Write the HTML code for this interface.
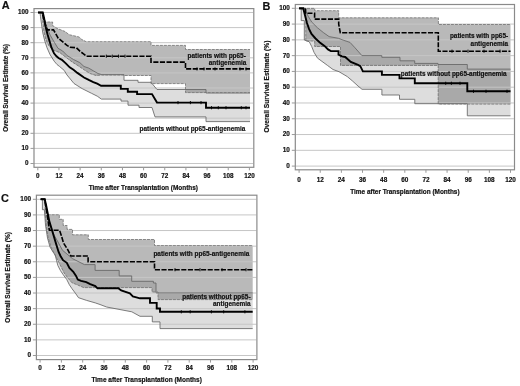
<!DOCTYPE html>
<html><head><meta charset="utf-8"><style>
html,body{margin:0;padding:0;background:#fff;}
svg{display:block;will-change:transform;filter:blur(0.3px);}
text{font-family:"Liberation Sans", sans-serif;fill:#111;stroke:#111;stroke-width:0.18px;}
.g{stroke:#c6c6c6;stroke-width:1;}
.box{fill:none;stroke:#8a8a8a;stroke-width:1.2;}
.tk{stroke:#9a9a9a;stroke-width:1;}
.tl{font-weight:bold;}
.at{font-size:6.3px;font-weight:bold;}
.lt{font-size:10.9px;font-weight:bold;}
.an{font-size:6.45px;font-weight:bold;}
.bn{fill:#dddddd;stroke:none;}
.bp{fill:#b9b9b9;stroke:none;}
.bo{fill:#a9a9a9;stroke:none;}
.en{fill:none;stroke:#666;stroke-width:0.85;}
.ep{fill:none;stroke:#707070;stroke-width:0.8;stroke-dasharray:3 1;}
.ct{stroke:#000;stroke-width:0.9;}
.kn{fill:none;stroke:#000;stroke-width:1.9;stroke-linejoin:miter;}
.kp{fill:none;stroke:#000;stroke-width:1.6;stroke-dasharray:5.1 1.5;}
</style></head>
<body><svg width="520" height="386" viewBox="0 0 520 386">
<rect width="520" height="386" fill="#fff"/>
<clipPath id="cn1"><polygon points="38,12.5 42.2,12.5 45,22 48,30 50.2,35.2 54.4,42.4 58,48.3 62.7,51 67.3,55.7 73.5,59.5 79.8,62.6 84,66.5 88.7,68.1 93.3,70.8 98,73.5 101.9,74.7 124,74.7 124,80.3 138,80.3 138,82.3 151,82.3 157,89.5 206,89.5 206,93 250,93 250,121.6 206,121.6 206,116.9 155,116.9 152,107.5 139,107.5 139,105.2 128,105.2 128,101.1 121,101.1 121,99.1 101.4,99.1 97.3,96.2 91.5,93.3 82.1,88.6 74,83.5 67,75 64.2,70.4 59.6,66.5 57,64.5 54.2,61.2 50,54.5 47,47.7 44.8,41 42.8,32.9 41.6,24.8 40.5,16.7 40,12.5 38,12.5"/></clipPath>
<polygon points="38,12.5 42.2,12.5 45,22 48,30 50.2,35.2 54.4,42.4 58,48.3 62.7,51 67.3,55.7 73.5,59.5 79.8,62.6 84,66.5 88.7,68.1 93.3,70.8 98,73.5 101.9,74.7 124,74.7 124,80.3 138,80.3 138,82.3 151,82.3 157,89.5 206,89.5 206,93 250,93 250,121.6 206,121.6 206,116.9 155,116.9 152,107.5 139,107.5 139,105.2 128,105.2 128,101.1 121,101.1 121,99.1 101.4,99.1 97.3,96.2 91.5,93.3 82.1,88.6 74,83.5 67,75 64.2,70.4 59.6,66.5 57,64.5 54.2,61.2 50,54.5 47,47.7 44.8,41 42.8,32.9 41.6,24.8 40.5,16.7 40,12.5 38,12.5" class="bn"/>
<polygon points="38,12.5 42.2,12.5 44,18 45.7,22 52.6,22 52.6,25.5 57,28.4 60.2,29.6 65,31.5 69.2,34.7 79.1,37 81.5,39.3 86.1,41.7 151,41.7 151,45.4 185.5,45.4 185.5,49.5 250,49.5 250,92.6 185.5,92.6 185.5,83.6 151,83.6 151,75.5 124,75.5 124,75 101.5,75 96,75.5 90,73.5 84.4,70 78.2,65.8 72,61.9 65.8,57.2 59.6,52.5 54,50.5 49,46 46,40 44,32 42.8,22 42.2,12.5 38,12.5" class="bp"/>
<polygon points="38,12.5 42.2,12.5 44,18 45.7,22 52.6,22 52.6,25.5 57,28.4 60.2,29.6 65,31.5 69.2,34.7 79.1,37 81.5,39.3 86.1,41.7 151,41.7 151,45.4 185.5,45.4 185.5,49.5 250,49.5 250,92.6 185.5,92.6 185.5,83.6 151,83.6 151,75.5 124,75.5 124,75 101.5,75 96,75.5 90,73.5 84.4,70 78.2,65.8 72,61.9 65.8,57.2 59.6,52.5 54,50.5 49,46 46,40 44,32 42.8,22 42.2,12.5 38,12.5" class="bo" clip-path="url(#cn1)"/>
<line x1="34" y1="163.5" x2="253.2" y2="163.5" class="g"/>
<line x1="34" y1="148.4" x2="253.2" y2="148.4" class="g"/>
<line x1="34" y1="133.3" x2="253.2" y2="133.3" class="g"/>
<line x1="34" y1="118.2" x2="253.2" y2="118.2" class="g"/>
<line x1="34" y1="103.1" x2="253.2" y2="103.1" class="g"/>
<line x1="34" y1="88" x2="253.2" y2="88" class="g"/>
<line x1="34" y1="72.9" x2="253.2" y2="72.9" class="g"/>
<line x1="34" y1="57.8" x2="253.2" y2="57.8" class="g"/>
<line x1="34" y1="42.7" x2="253.2" y2="42.7" class="g"/>
<line x1="34" y1="27.6" x2="253.2" y2="27.6" class="g"/>
<line x1="34" y1="12.5" x2="253.2" y2="12.5" class="g"/>
<polyline points="38,12.5 42.2,12.5 45,22 48,30 50.2,35.2 54.4,42.4 58,48.3 62.7,51 67.3,55.7 73.5,59.5 79.8,62.6 84,66.5 88.7,68.1 93.3,70.8 98,73.5 101.9,74.7 124,74.7 124,80.3 138,80.3 138,82.3 151,82.3 157,89.5 206,89.5 206,93 250,93" class="en"/>
<polyline points="38,12.5 40,12.5 40.5,16.7 41.6,24.8 42.8,32.9 44.8,41 47,47.7 50,54.5 54.2,61.2 57,64.5 59.6,66.5 64.2,70.4 67,75 74,83.5 82.1,88.6 91.5,93.3 97.3,96.2 101.4,99.1 121,99.1 121,101.1 128,101.1 128,105.2 139,105.2 139,107.5 152,107.5 155,116.9 206,116.9 206,121.6 250,121.6" class="en"/>
<polyline points="38,12.5 42.2,12.5 44,18 45.7,22 52.6,22 52.6,25.5 57,28.4 60.2,29.6 65,31.5 69.2,34.7 79.1,37 81.5,39.3 86.1,41.7 151,41.7 151,45.4 185.5,45.4 185.5,49.5 250,49.5" class="ep"/>
<polyline points="38,12.5 42.2,12.5 42.8,22 44,32 46,40 49,46 54,50.5 59.6,52.5 65.8,57.2 72,61.9 78.2,65.8 84.4,70 90,73.5 96,75.5 101.5,75 124,75 124,75.5 151,75.5 151,83.6 185.5,83.6 185.5,92.6 250,92.6" class="ep"/>
<polyline points="38,12.5 42.8,12.5 44.1,18.1 45.5,26.2 47.5,34.3 49.5,41 51.5,47.7 54,53.3 56.5,56.3 58.5,58 61.9,59.8 65.8,63.4 69.7,67.3 73.5,69.8 77.4,72.9 84,77.5 88.7,79.9 93.3,82.1 97.2,83.7 101.1,85.8 120.8,85.8 120.8,88.9 127.8,88.9 127.8,91.8 137.1,91.8 137.1,94.1 152,94.1 157,102.6 206,102.6 206,107.7 250,107.7" class="kn"/>
<polyline points="38,12.5 42.2,12.5 44,20 46,27 47.5,29.9 53.5,29.9 55.6,33.5 58.2,38.2 62.8,41.8 67,45.4 70,47.2 76.5,47.8 80.3,51.5 83.5,53.8 86.5,56.2 151,56.2 151,62.1 185.5,62.1 185.5,68.9 250,68.9" class="kp"/>
<text x="187.5" y="57.6" class="an" text-anchor="start">patients with pp65-</text>
<text x="246.3" y="64.9" class="an" text-anchor="end">antigenemia</text>
<text x="139.5" y="131.2" class="an" text-anchor="start">patients without pp65-antigenemia</text>
<line x1="178" y1="101" x2="178" y2="104.2" class="ct"/>
<line x1="190.4" y1="101" x2="190.4" y2="104.2" class="ct"/>
<line x1="201" y1="101" x2="201" y2="104.2" class="ct"/>
<line x1="211.5" y1="106.1" x2="211.5" y2="109.3" class="ct"/>
<line x1="218.3" y1="106.1" x2="218.3" y2="109.3" class="ct"/>
<line x1="226" y1="106.1" x2="226" y2="109.3" class="ct"/>
<line x1="241.3" y1="106.1" x2="241.3" y2="109.3" class="ct"/>
<line x1="246" y1="106.1" x2="246" y2="109.3" class="ct"/>
<line x1="106.3" y1="54.6" x2="106.3" y2="57.8" class="ct"/>
<line x1="112.3" y1="54.6" x2="112.3" y2="57.8" class="ct"/>
<line x1="118.5" y1="54.6" x2="118.5" y2="57.8" class="ct"/>
<line x1="125" y1="54.6" x2="125" y2="57.8" class="ct"/>
<line x1="197" y1="67.3" x2="197" y2="70.5" class="ct"/>
<line x1="204" y1="67.3" x2="204" y2="70.5" class="ct"/>
<line x1="215" y1="67.3" x2="215" y2="70.5" class="ct"/>
<line x1="240" y1="67.3" x2="240" y2="70.5" class="ct"/>
<line x1="246" y1="67.3" x2="246" y2="70.5" class="ct"/>
<rect x="34" y="8.6" width="219.8" height="158.7" class="box"/>
<line x1="30.5" y1="163.5" x2="34" y2="163.5" class="tk"/>
<text x="28.5" y="165.4" class="tl" style="font-size:6.3px" text-anchor="end">0</text>
<line x1="30.5" y1="148.4" x2="34" y2="148.4" class="tk"/>
<text x="28.5" y="150.3" class="tl" style="font-size:6.3px" text-anchor="end">10</text>
<line x1="30.5" y1="133.3" x2="34" y2="133.3" class="tk"/>
<text x="28.5" y="135.2" class="tl" style="font-size:6.3px" text-anchor="end">20</text>
<line x1="30.5" y1="118.2" x2="34" y2="118.2" class="tk"/>
<text x="28.5" y="120.1" class="tl" style="font-size:6.3px" text-anchor="end">30</text>
<line x1="30.5" y1="103.1" x2="34" y2="103.1" class="tk"/>
<text x="28.5" y="105" class="tl" style="font-size:6.3px" text-anchor="end">40</text>
<line x1="30.5" y1="88" x2="34" y2="88" class="tk"/>
<text x="28.5" y="89.9" class="tl" style="font-size:6.3px" text-anchor="end">50</text>
<line x1="30.5" y1="72.9" x2="34" y2="72.9" class="tk"/>
<text x="28.5" y="74.8" class="tl" style="font-size:6.3px" text-anchor="end">60</text>
<line x1="30.5" y1="57.8" x2="34" y2="57.8" class="tk"/>
<text x="28.5" y="59.7" class="tl" style="font-size:6.3px" text-anchor="end">70</text>
<line x1="30.5" y1="42.7" x2="34" y2="42.7" class="tk"/>
<text x="28.5" y="44.6" class="tl" style="font-size:6.3px" text-anchor="end">80</text>
<line x1="30.5" y1="27.6" x2="34" y2="27.6" class="tk"/>
<text x="28.5" y="29.5" class="tl" style="font-size:6.3px" text-anchor="end">90</text>
<line x1="30.5" y1="12.5" x2="34" y2="12.5" class="tk"/>
<text x="28.5" y="14.4" class="tl" style="font-size:6.3px" text-anchor="end">100</text>
<line x1="37.8" y1="167.3" x2="37.8" y2="170.3" class="tk"/>
<text x="37.8" y="178.2" class="tl" style="font-size:6.3px" text-anchor="middle">0</text>
<line x1="58.96" y1="167.3" x2="58.96" y2="170.3" class="tk"/>
<text x="58.96" y="178.2" class="tl" style="font-size:6.3px" text-anchor="middle">12</text>
<line x1="80.12" y1="167.3" x2="80.12" y2="170.3" class="tk"/>
<text x="80.12" y="178.2" class="tl" style="font-size:6.3px" text-anchor="middle">24</text>
<line x1="101.28" y1="167.3" x2="101.28" y2="170.3" class="tk"/>
<text x="101.28" y="178.2" class="tl" style="font-size:6.3px" text-anchor="middle">36</text>
<line x1="122.44" y1="167.3" x2="122.44" y2="170.3" class="tk"/>
<text x="122.44" y="178.2" class="tl" style="font-size:6.3px" text-anchor="middle">48</text>
<line x1="143.6" y1="167.3" x2="143.6" y2="170.3" class="tk"/>
<text x="143.6" y="178.2" class="tl" style="font-size:6.3px" text-anchor="middle">60</text>
<line x1="164.76" y1="167.3" x2="164.76" y2="170.3" class="tk"/>
<text x="164.76" y="178.2" class="tl" style="font-size:6.3px" text-anchor="middle">72</text>
<line x1="185.92" y1="167.3" x2="185.92" y2="170.3" class="tk"/>
<text x="185.92" y="178.2" class="tl" style="font-size:6.3px" text-anchor="middle">84</text>
<line x1="207.08" y1="167.3" x2="207.08" y2="170.3" class="tk"/>
<text x="207.08" y="178.2" class="tl" style="font-size:6.3px" text-anchor="middle">96</text>
<line x1="228.24" y1="167.3" x2="228.24" y2="170.3" class="tk"/>
<text x="228.24" y="178.2" class="tl" style="font-size:6.3px" text-anchor="middle">108</text>
<line x1="249.4" y1="167.3" x2="249.4" y2="170.3" class="tk"/>
<text x="249.4" y="178.2" class="tl" style="font-size:6.3px" text-anchor="middle">120</text>
<text x="143.3" y="189.7" class="at" style="font-size:6.45px" text-anchor="middle">Time after Transplantation (Months)</text>
<text transform="translate(8.4,87.95) rotate(-90)" class="at" style="font-size:6.35px" text-anchor="middle">Overall Survival Estimate (%)</text>
<text x="1.7" y="8.8" class="lt">A</text>
<clipPath id="cn2"><polygon points="299,8.4 303.3,8.4 305.5,11 308.2,16.2 311.7,22 317.5,27.8 323.3,32.5 329.1,36.6 338.5,38.3 343.1,40.1 350,42.4 355,47.8 361.9,55.6 381.8,55.6 381.8,57.3 400,57.3 400,60.8 414.7,60.8 414.7,63.4 438,63.4 438,64.5 467.3,64.5 467.3,69.1 510.5,69.1 510.5,115.8 467.3,115.8 467.3,103.7 414.8,103.7 414.8,99.3 399.5,99.3 399.5,95 381.9,95 381.9,89.3 362,89.3 358,86 352.5,81 347.3,76.6 339,71.7 333,69.5 327.6,65.5 317.5,58.1 314,52.3 311.7,46.5 309.3,41.8 304.3,40 304.3,20.6 301.2,20.6 301.2,8.4 299,8.4"/></clipPath>
<polygon points="299,8.4 303.3,8.4 305.5,11 308.2,16.2 311.7,22 317.5,27.8 323.3,32.5 329.1,36.6 338.5,38.3 343.1,40.1 350,42.4 355,47.8 361.9,55.6 381.8,55.6 381.8,57.3 400,57.3 400,60.8 414.7,60.8 414.7,63.4 438,63.4 438,64.5 467.3,64.5 467.3,69.1 510.5,69.1 510.5,115.8 467.3,115.8 467.3,103.7 414.8,103.7 414.8,99.3 399.5,99.3 399.5,95 381.9,95 381.9,89.3 362,89.3 358,86 352.5,81 347.3,76.6 339,71.7 333,69.5 327.6,65.5 317.5,58.1 314,52.3 311.7,46.5 309.3,41.8 304.3,40 304.3,20.6 301.2,20.6 301.2,8.4 299,8.4" class="bn"/>
<polygon points="299,8.4 314.7,8.4 314.7,10.7 338.7,10.7 338.7,17.8 438.4,17.8 438.4,24.5 510.5,24.5 510.5,104.1 438.2,104.1 438.2,65.4 340.5,65.4 340.5,46.5 314.7,46.5 314.7,41 305.8,41 305.8,8.4 299,8.4" class="bp"/>
<polygon points="299,8.4 314.7,8.4 314.7,10.7 338.7,10.7 338.7,17.8 438.4,17.8 438.4,24.5 510.5,24.5 510.5,104.1 438.2,104.1 438.2,65.4 340.5,65.4 340.5,46.5 314.7,46.5 314.7,41 305.8,41 305.8,8.4 299,8.4" class="bo" clip-path="url(#cn2)"/>
<line x1="295.3" y1="166.1" x2="513.9" y2="166.1" class="g"/>
<line x1="295.3" y1="150.32" x2="513.9" y2="150.32" class="g"/>
<line x1="295.3" y1="134.54" x2="513.9" y2="134.54" class="g"/>
<line x1="295.3" y1="118.76" x2="513.9" y2="118.76" class="g"/>
<line x1="295.3" y1="102.98" x2="513.9" y2="102.98" class="g"/>
<line x1="295.3" y1="87.2" x2="513.9" y2="87.2" class="g"/>
<line x1="295.3" y1="71.42" x2="513.9" y2="71.42" class="g"/>
<line x1="295.3" y1="55.64" x2="513.9" y2="55.64" class="g"/>
<line x1="295.3" y1="39.86" x2="513.9" y2="39.86" class="g"/>
<line x1="295.3" y1="24.08" x2="513.9" y2="24.08" class="g"/>
<line x1="295.3" y1="8.3" x2="513.9" y2="8.3" class="g"/>
<polyline points="299,8.4 303.3,8.4 305.5,11 308.2,16.2 311.7,22 317.5,27.8 323.3,32.5 329.1,36.6 338.5,38.3 343.1,40.1 350,42.4 355,47.8 361.9,55.6 381.8,55.6 381.8,57.3 400,57.3 400,60.8 414.7,60.8 414.7,63.4 438,63.4 438,64.5 467.3,64.5 467.3,69.1 510.5,69.1" class="en"/>
<polyline points="299,8.4 301.2,8.4 301.2,20.6 304.3,20.6 304.3,40 309.3,41.8 311.7,46.5 314,52.3 317.5,58.1 327.6,65.5 333,69.5 339,71.7 347.3,76.6 352.5,81 358,86 362,89.3 381.9,89.3 381.9,95 399.5,95 399.5,99.3 414.8,99.3 414.8,103.7 467.3,103.7 467.3,115.8 510.5,115.8" class="en"/>
<polyline points="299,8.4 314.7,8.4 314.7,10.7 338.7,10.7 338.7,17.8 438.4,17.8 438.4,24.5 510.5,24.5" class="ep"/>
<polyline points="299,8.4 305.8,8.4 305.8,41 314.7,41 314.7,46.5 340.5,46.5 340.5,65.4 438.2,65.4 438.2,104.1 510.5,104.1" class="ep"/>
<polyline points="299,8.4 303.3,8.4 304.8,14.4 306.9,22.7 309,28.9 311.5,34 315.5,38.5 319.8,42.4 324.5,45.9 328,49.4 330.9,51.1 338.5,51.1 338.5,54.6 342,56.4 345.2,57 350.8,61.9 358,64.9 360.3,66.2 362.9,71.4 381.9,71.4 381.9,74.9 399.5,74.9 399.5,78.4 414.8,78.4 414.8,83.3 467.3,83.3 467.3,91.3 510.5,91.3" class="kn"/>
<polyline points="299,8.4 305.5,8.4 305.5,13.2 314.6,13.2 314.6,19.1 338.7,19.1 338.7,24.2 340.3,32.7 438.3,32.7 438.3,51.2 510.5,51.2" class="kp"/>
<text x="508.2" y="37.6" class="an" text-anchor="end">patients with pp65-</text>
<text x="508.2" y="45.6" class="an" text-anchor="end">antigenemia</text>
<text x="400.8" y="75.5" class="an" text-anchor="start">patients without pp65-antigenemia</text>
<line x1="445.7" y1="81.7" x2="445.7" y2="84.9" class="ct"/>
<line x1="451.4" y1="81.7" x2="451.4" y2="84.9" class="ct"/>
<line x1="460" y1="81.7" x2="460" y2="84.9" class="ct"/>
<line x1="473.5" y1="89.7" x2="473.5" y2="92.9" class="ct"/>
<line x1="486" y1="89.7" x2="486" y2="92.9" class="ct"/>
<line x1="507" y1="89.7" x2="507" y2="92.9" class="ct"/>
<line x1="452" y1="49.6" x2="452" y2="52.8" class="ct"/>
<line x1="468" y1="49.6" x2="468" y2="52.8" class="ct"/>
<line x1="484" y1="49.6" x2="484" y2="52.8" class="ct"/>
<line x1="500" y1="49.6" x2="500" y2="52.8" class="ct"/>
<rect x="295.3" y="4.5" width="219.2" height="165.3" class="box"/>
<line x1="291.8" y1="166.1" x2="295.3" y2="166.1" class="tk"/>
<text x="289.9" y="168" class="tl" style="font-size:6.4px" text-anchor="end">0</text>
<line x1="291.8" y1="150.32" x2="295.3" y2="150.32" class="tk"/>
<text x="289.9" y="152.22" class="tl" style="font-size:6.4px" text-anchor="end">10</text>
<line x1="291.8" y1="134.54" x2="295.3" y2="134.54" class="tk"/>
<text x="289.9" y="136.44" class="tl" style="font-size:6.4px" text-anchor="end">20</text>
<line x1="291.8" y1="118.76" x2="295.3" y2="118.76" class="tk"/>
<text x="289.9" y="120.66" class="tl" style="font-size:6.4px" text-anchor="end">30</text>
<line x1="291.8" y1="102.98" x2="295.3" y2="102.98" class="tk"/>
<text x="289.9" y="104.88" class="tl" style="font-size:6.4px" text-anchor="end">40</text>
<line x1="291.8" y1="87.2" x2="295.3" y2="87.2" class="tk"/>
<text x="289.9" y="89.1" class="tl" style="font-size:6.4px" text-anchor="end">50</text>
<line x1="291.8" y1="71.42" x2="295.3" y2="71.42" class="tk"/>
<text x="289.9" y="73.32" class="tl" style="font-size:6.4px" text-anchor="end">60</text>
<line x1="291.8" y1="55.64" x2="295.3" y2="55.64" class="tk"/>
<text x="289.9" y="57.54" class="tl" style="font-size:6.4px" text-anchor="end">70</text>
<line x1="291.8" y1="39.86" x2="295.3" y2="39.86" class="tk"/>
<text x="289.9" y="41.76" class="tl" style="font-size:6.4px" text-anchor="end">80</text>
<line x1="291.8" y1="24.08" x2="295.3" y2="24.08" class="tk"/>
<text x="289.9" y="25.98" class="tl" style="font-size:6.4px" text-anchor="end">90</text>
<line x1="291.8" y1="8.3" x2="295.3" y2="8.3" class="tk"/>
<text x="289.9" y="10.2" class="tl" style="font-size:6.4px" text-anchor="end">100</text>
<line x1="299.1" y1="169.8" x2="299.1" y2="172.8" class="tk"/>
<text x="299.1" y="181.6" class="tl" style="font-size:6.4px" text-anchor="middle">0</text>
<line x1="320.24" y1="169.8" x2="320.24" y2="172.8" class="tk"/>
<text x="320.24" y="181.6" class="tl" style="font-size:6.4px" text-anchor="middle">12</text>
<line x1="341.38" y1="169.8" x2="341.38" y2="172.8" class="tk"/>
<text x="341.38" y="181.6" class="tl" style="font-size:6.4px" text-anchor="middle">24</text>
<line x1="362.52" y1="169.8" x2="362.52" y2="172.8" class="tk"/>
<text x="362.52" y="181.6" class="tl" style="font-size:6.4px" text-anchor="middle">36</text>
<line x1="383.66" y1="169.8" x2="383.66" y2="172.8" class="tk"/>
<text x="383.66" y="181.6" class="tl" style="font-size:6.4px" text-anchor="middle">48</text>
<line x1="404.8" y1="169.8" x2="404.8" y2="172.8" class="tk"/>
<text x="404.8" y="181.6" class="tl" style="font-size:6.4px" text-anchor="middle">60</text>
<line x1="425.94" y1="169.8" x2="425.94" y2="172.8" class="tk"/>
<text x="425.94" y="181.6" class="tl" style="font-size:6.4px" text-anchor="middle">72</text>
<line x1="447.08" y1="169.8" x2="447.08" y2="172.8" class="tk"/>
<text x="447.08" y="181.6" class="tl" style="font-size:6.4px" text-anchor="middle">84</text>
<line x1="468.22" y1="169.8" x2="468.22" y2="172.8" class="tk"/>
<text x="468.22" y="181.6" class="tl" style="font-size:6.4px" text-anchor="middle">96</text>
<line x1="489.36" y1="169.8" x2="489.36" y2="172.8" class="tk"/>
<text x="489.36" y="181.6" class="tl" style="font-size:6.4px" text-anchor="middle">108</text>
<line x1="510.5" y1="169.8" x2="510.5" y2="172.8" class="tk"/>
<text x="510.5" y="181.6" class="tl" style="font-size:6.4px" text-anchor="middle">120</text>
<text x="404.9" y="193.6" class="at" style="font-size:6.45px" text-anchor="middle">Time after Transplantation (Months)</text>
<text transform="translate(269,86.6) rotate(-90)" class="at" style="font-size:6.65px" text-anchor="middle">Overall Survival Estimate (%)</text>
<text x="262.4" y="9.7" class="lt">B</text>
<clipPath id="cn3"><polygon points="40.7,199.2 44.7,199.2 47,212 50,224 54.1,235.1 58,242 62.5,250.3 72.6,258.7 84.4,264.6 95.1,264.6 95.1,270.4 119.2,270.4 119.2,275.9 131.7,275.9 131.7,281.3 153.4,281.3 153.4,283 156,283 156,292.9 252.7,292.9 252.7,328.6 160,328.6 160,321.9 152.3,321.9 152.3,316.3 140,316.3 131.8,311.8 106.6,307 100,304.5 95.3,302.9 86.3,300.3 78.5,297.7 75.9,293.9 72,288.7 69.4,284.8 66.8,279.6 63,274.4 60.4,270.5 57.8,265.4 56.5,260.2 55.2,255 53,252 50,247 47.5,238 45.5,225 44.4,209.7 42.4,209.7 42.4,199.2 40.7,199.2"/></clipPath>
<polygon points="40.7,199.2 44.7,199.2 47,212 50,224 54.1,235.1 58,242 62.5,250.3 72.6,258.7 84.4,264.6 95.1,264.6 95.1,270.4 119.2,270.4 119.2,275.9 131.7,275.9 131.7,281.3 153.4,281.3 153.4,283 156,283 156,292.9 252.7,292.9 252.7,328.6 160,328.6 160,321.9 152.3,321.9 152.3,316.3 140,316.3 131.8,311.8 106.6,307 100,304.5 95.3,302.9 86.3,300.3 78.5,297.7 75.9,293.9 72,288.7 69.4,284.8 66.8,279.6 63,274.4 60.4,270.5 57.8,265.4 56.5,260.2 55.2,255 53,252 50,247 47.5,238 45.5,225 44.4,209.7 42.4,209.7 42.4,199.2 40.7,199.2" class="bn"/>
<polygon points="40.7,199.2 44.7,199.2 46.5,210 47.5,214.8 59.3,214.8 59.3,219.3 63.2,219.3 63.2,225.5 67.1,225.5 67.1,229.4 72.5,229.4 72.5,234.8 88.3,234.8 88.3,239.5 154.5,239.5 154.5,245.6 252.7,245.6 252.7,299.6 158,299.6 158,292 152,292 152,287.6 83.7,287.6 77.2,284.8 72,282.8 68.1,278.3 64.2,273.1 61.7,268 59.1,262.8 55,255 51,247 48.2,238 46.5,228 45.3,215 44.7,199.2 40.7,199.2" class="bp"/>
<polygon points="40.7,199.2 44.7,199.2 46.5,210 47.5,214.8 59.3,214.8 59.3,219.3 63.2,219.3 63.2,225.5 67.1,225.5 67.1,229.4 72.5,229.4 72.5,234.8 88.3,234.8 88.3,239.5 154.5,239.5 154.5,245.6 252.7,245.6 252.7,299.6 158,299.6 158,292 152,292 152,287.6 83.7,287.6 77.2,284.8 72,282.8 68.1,278.3 64.2,273.1 61.7,268 59.1,262.8 55,255 51,247 48.2,238 46.5,228 45.3,215 44.7,199.2 40.7,199.2" class="bo" clip-path="url(#cn3)"/>
<line x1="36.4" y1="355.5" x2="256.3" y2="355.5" class="g"/>
<line x1="36.4" y1="339.88" x2="256.3" y2="339.88" class="g"/>
<line x1="36.4" y1="324.26" x2="256.3" y2="324.26" class="g"/>
<line x1="36.4" y1="308.64" x2="256.3" y2="308.64" class="g"/>
<line x1="36.4" y1="293.02" x2="256.3" y2="293.02" class="g"/>
<line x1="36.4" y1="277.4" x2="256.3" y2="277.4" class="g"/>
<line x1="36.4" y1="261.78" x2="256.3" y2="261.78" class="g"/>
<line x1="36.4" y1="246.16" x2="256.3" y2="246.16" class="g"/>
<line x1="36.4" y1="230.54" x2="256.3" y2="230.54" class="g"/>
<line x1="36.4" y1="214.92" x2="256.3" y2="214.92" class="g"/>
<line x1="36.4" y1="199.3" x2="256.3" y2="199.3" class="g"/>
<polyline points="40.7,199.2 44.7,199.2 47,212 50,224 54.1,235.1 58,242 62.5,250.3 72.6,258.7 84.4,264.6 95.1,264.6 95.1,270.4 119.2,270.4 119.2,275.9 131.7,275.9 131.7,281.3 153.4,281.3 153.4,283 156,283 156,292.9 252.7,292.9" class="en"/>
<polyline points="40.7,199.2 42.4,199.2 42.4,209.7 44.4,209.7 45.5,225 47.5,238 50,247 53,252 55.2,255 56.5,260.2 57.8,265.4 60.4,270.5 63,274.4 66.8,279.6 69.4,284.8 72,288.7 75.9,293.9 78.5,297.7 86.3,300.3 95.3,302.9 100,304.5 106.6,307 131.8,311.8 140,316.3 152.3,316.3 152.3,321.9 160,321.9 160,328.6 252.7,328.6" class="en"/>
<polyline points="40.7,199.2 44.7,199.2 46.5,210 47.5,214.8 59.3,214.8 59.3,219.3 63.2,219.3 63.2,225.5 67.1,225.5 67.1,229.4 72.5,229.4 72.5,234.8 88.3,234.8 88.3,239.5 154.5,239.5 154.5,245.6 252.7,245.6" class="ep"/>
<polyline points="40.7,199.2 44.7,199.2 45.3,215 46.5,228 48.2,238 51,247 55,255 59.1,262.8 61.7,268 64.2,273.1 68.1,278.3 72,282.8 77.2,284.8 83.7,287.6 152,287.6 152,292 158,292 158,299.6 252.7,299.6" class="ep"/>
<polyline points="40.7,199.2 44.7,199.2 46.1,205.3 47.7,213.1 49.2,220.9 51.6,228.7 53.9,236.4 56.2,244.2 58.6,252 60.5,256 63,260.2 66.8,262.8 69.4,268 73.3,271.8 75.9,275.7 77.8,279.6 81.1,280.9 86.3,282.2 90.2,284.1 95.3,286.1 97.5,288.3 118.3,288.3 121.2,290.5 129.9,293.4 132.8,296.3 140,298.3 150,298.3 150,302.9 156.7,302.9 156.7,308.5 160,308.5 160,311.8 252.7,311.8" class="kn"/>
<polyline points="40.7,199.2 44.7,199.2 46.5,210 48.3,222 49.3,230.2 59.5,230.2 61.5,236 63.5,243 67.6,249.5 70.9,256 88.1,256 88.1,261.7 154.5,261.7 154.5,269.7 252.7,269.7" class="kp"/>
<text x="153.4" y="256.3" class="an" text-anchor="start">patients with pp65-antigenemia</text>
<text x="250.6" y="299" class="an" text-anchor="end">patients without pp65-</text>
<text x="250.6" y="306" class="an" text-anchor="end">antigenemia</text>
<line x1="181.3" y1="310.2" x2="181.3" y2="313.4" class="ct"/>
<line x1="190.2" y1="310.2" x2="190.2" y2="313.4" class="ct"/>
<line x1="211.4" y1="310.2" x2="211.4" y2="313.4" class="ct"/>
<line x1="223.7" y1="310.2" x2="223.7" y2="313.4" class="ct"/>
<line x1="244.9" y1="310.2" x2="244.9" y2="313.4" class="ct"/>
<line x1="175" y1="268.1" x2="175" y2="271.3" class="ct"/>
<line x1="200" y1="268.1" x2="200" y2="271.3" class="ct"/>
<line x1="222" y1="268.1" x2="222" y2="271.3" class="ct"/>
<line x1="246" y1="268.1" x2="246" y2="271.3" class="ct"/>
<rect x="36.4" y="195.2" width="220.5" height="164.4" class="box"/>
<line x1="32.9" y1="355.5" x2="36.4" y2="355.5" class="tk"/>
<text x="31" y="357.4" class="tl" style="font-size:6.4px" text-anchor="end">0</text>
<line x1="32.9" y1="339.88" x2="36.4" y2="339.88" class="tk"/>
<text x="31" y="341.78" class="tl" style="font-size:6.4px" text-anchor="end">10</text>
<line x1="32.9" y1="324.26" x2="36.4" y2="324.26" class="tk"/>
<text x="31" y="326.16" class="tl" style="font-size:6.4px" text-anchor="end">20</text>
<line x1="32.9" y1="308.64" x2="36.4" y2="308.64" class="tk"/>
<text x="31" y="310.54" class="tl" style="font-size:6.4px" text-anchor="end">30</text>
<line x1="32.9" y1="293.02" x2="36.4" y2="293.02" class="tk"/>
<text x="31" y="294.92" class="tl" style="font-size:6.4px" text-anchor="end">40</text>
<line x1="32.9" y1="277.4" x2="36.4" y2="277.4" class="tk"/>
<text x="31" y="279.3" class="tl" style="font-size:6.4px" text-anchor="end">50</text>
<line x1="32.9" y1="261.78" x2="36.4" y2="261.78" class="tk"/>
<text x="31" y="263.68" class="tl" style="font-size:6.4px" text-anchor="end">60</text>
<line x1="32.9" y1="246.16" x2="36.4" y2="246.16" class="tk"/>
<text x="31" y="248.06" class="tl" style="font-size:6.4px" text-anchor="end">70</text>
<line x1="32.9" y1="230.54" x2="36.4" y2="230.54" class="tk"/>
<text x="31" y="232.44" class="tl" style="font-size:6.4px" text-anchor="end">80</text>
<line x1="32.9" y1="214.92" x2="36.4" y2="214.92" class="tk"/>
<text x="31" y="216.82" class="tl" style="font-size:6.4px" text-anchor="end">90</text>
<line x1="32.9" y1="199.3" x2="36.4" y2="199.3" class="tk"/>
<text x="31" y="201.2" class="tl" style="font-size:6.4px" text-anchor="end">100</text>
<line x1="40.1" y1="359.6" x2="40.1" y2="362.6" class="tk"/>
<text x="40.1" y="370.3" class="tl" style="font-size:6.4px" text-anchor="middle">0</text>
<line x1="61.4" y1="359.6" x2="61.4" y2="362.6" class="tk"/>
<text x="61.4" y="370.3" class="tl" style="font-size:6.4px" text-anchor="middle">12</text>
<line x1="82.7" y1="359.6" x2="82.7" y2="362.6" class="tk"/>
<text x="82.7" y="370.3" class="tl" style="font-size:6.4px" text-anchor="middle">24</text>
<line x1="104" y1="359.6" x2="104" y2="362.6" class="tk"/>
<text x="104" y="370.3" class="tl" style="font-size:6.4px" text-anchor="middle">36</text>
<line x1="125.3" y1="359.6" x2="125.3" y2="362.6" class="tk"/>
<text x="125.3" y="370.3" class="tl" style="font-size:6.4px" text-anchor="middle">48</text>
<line x1="146.6" y1="359.6" x2="146.6" y2="362.6" class="tk"/>
<text x="146.6" y="370.3" class="tl" style="font-size:6.4px" text-anchor="middle">60</text>
<line x1="167.9" y1="359.6" x2="167.9" y2="362.6" class="tk"/>
<text x="167.9" y="370.3" class="tl" style="font-size:6.4px" text-anchor="middle">72</text>
<line x1="189.2" y1="359.6" x2="189.2" y2="362.6" class="tk"/>
<text x="189.2" y="370.3" class="tl" style="font-size:6.4px" text-anchor="middle">84</text>
<line x1="210.5" y1="359.6" x2="210.5" y2="362.6" class="tk"/>
<text x="210.5" y="370.3" class="tl" style="font-size:6.4px" text-anchor="middle">96</text>
<line x1="231.8" y1="359.6" x2="231.8" y2="362.6" class="tk"/>
<text x="231.8" y="370.3" class="tl" style="font-size:6.4px" text-anchor="middle">108</text>
<line x1="253.1" y1="359.6" x2="253.1" y2="362.6" class="tk"/>
<text x="253.1" y="370.3" class="tl" style="font-size:6.4px" text-anchor="middle">120</text>
<text x="146.65" y="382" class="at" style="font-size:6.5px" text-anchor="middle">Time after Transplantation (Months)</text>
<text transform="translate(10.4,277.4) rotate(-90)" class="at" style="font-size:6.55px" text-anchor="middle">Overall Survival Estimate (%)</text>
<text x="1" y="201.6" class="lt">C</text>
</svg></body></html>
